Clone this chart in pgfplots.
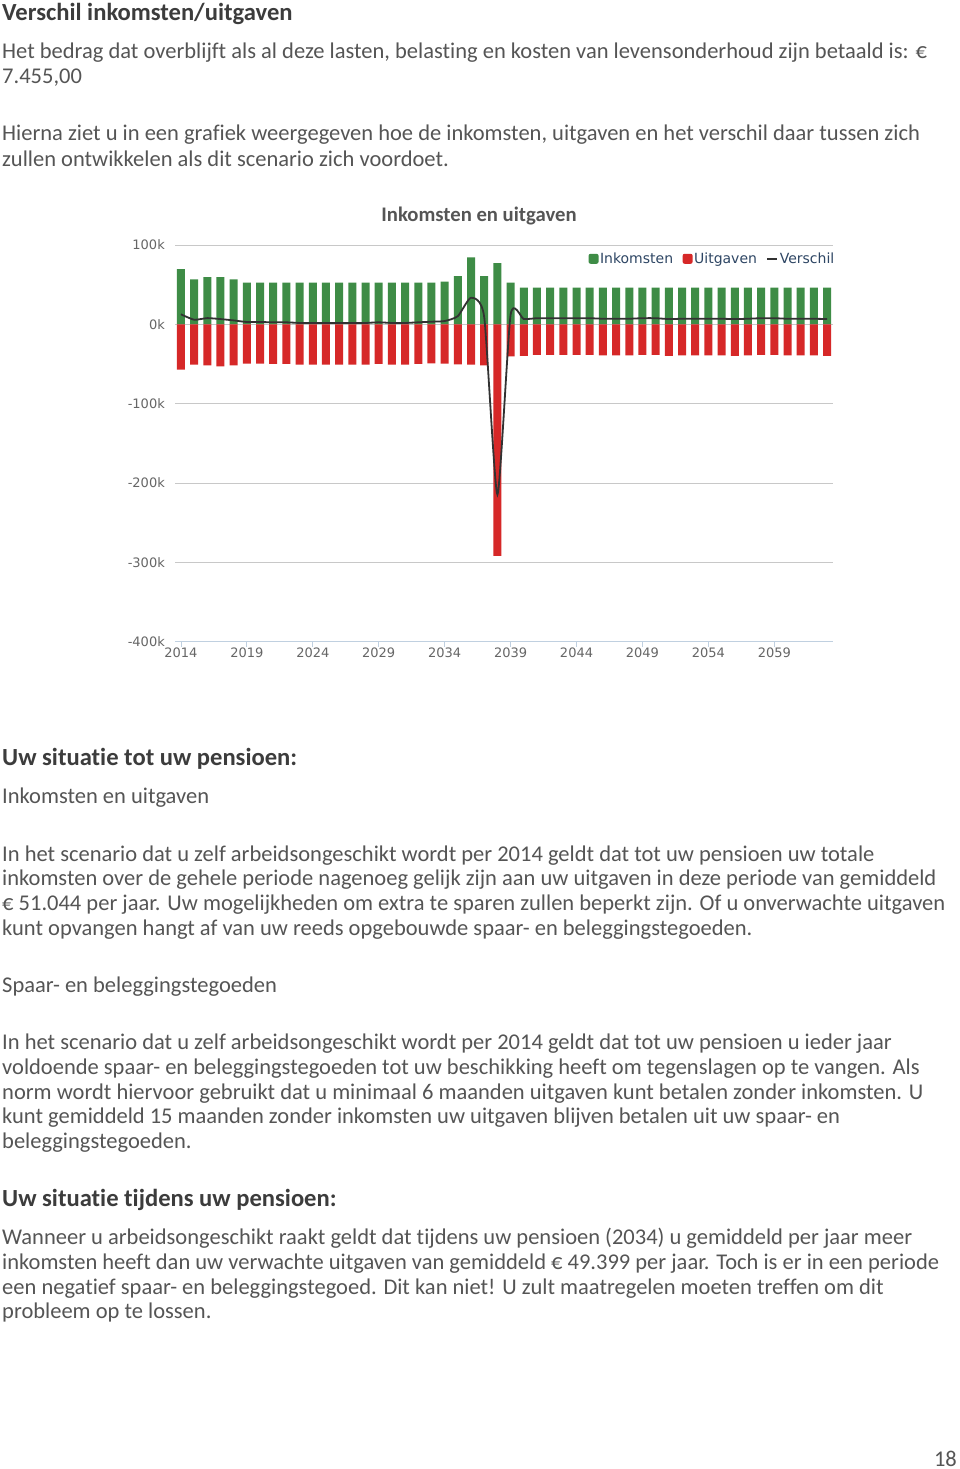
\documentclass[border=0pt]{standalone}
\usepackage{pgfplots}
\usepackage{pgfplotstable}
\pgfplotsset{compat=1.18}
\usepackage{fontspec}
\setmainfont[Ligatures=NoCommon]{Carlito}
\newfontfamily\dv{DejaVu Sans}
\definecolor{gbar}{RGB}{62,140,70}
\definecolor{rbar}{RGB}{214,40,40}
\definecolor{txt}{RGB}{85,85,85}
\definecolor{hd}{RGB}{60,60,60}
\definecolor{leg}{RGB}{46,70,100}
\definecolor{gridc}{RGB}{200,200,200}
\definecolor{axisc}{RGB}{192,208,224}
\definecolor{tickl}{RGB}{102,102,102}
\definecolor{linec}{RGB}{50,50,50}

\pgfplotstableread{
year ink uit ver
2014 69.6 -57.0 12.6
2015 56.6 -50.8 5.8
2016 59.5 -51.7 7.8
2017 59.5 -52.9 6.6
2018 56.6 -51.7 4.9
2019 52.5 -49.6 2.9
2020 52.5 -49.6 2.9
2021 52.5 -50.0 2.5
2022 52.5 -50.0 2.5
2023 52.5 -50.8 1.7
2024 52.5 -50.8 1.7
2025 52.5 -50.8 1.7
2026 52.5 -50.8 1.7
2027 52.5 -50.8 1.7
2028 52.5 -50.8 1.7
2029 52.5 -50.0 2.5
2030 52.5 -50.8 1.7
2031 52.5 -50.8 1.7
2032 52.5 -50.0 2.5
2033 52.5 -49.2 3.3
2034 53.7 -49.6 4.1
2035 60.7 -50.4 10.3
2036 84.3 -50.8 33.5
2037 60.7 -51.7 9.0
2038 77.3 -292.0 -214.7
2039 52.5 -40.5 12.0
2040 46.3 -39.7 6.6
2041 46.3 -38.6 7.7
2042 46.3 -38.6 7.7
2043 46.3 -38.6 7.7
2044 46.3 -38.6 7.7
2045 46.3 -38.6 7.7
2046 46.3 -39.3 7.0
2047 46.3 -39.3 7.0
2048 46.3 -39.3 7.0
2049 46.3 -38.6 7.7
2050 46.3 -38.6 7.7
2051 46.3 -39.7 6.6
2052 46.3 -39.3 7.0
2053 46.3 -39.3 7.0
2054 46.3 -39.3 7.0
2055 46.3 -39.3 7.0
2056 46.3 -39.7 6.6
2057 46.3 -39.3 7.0
2058 46.3 -38.6 7.7
2059 46.3 -38.6 7.7
2060 46.3 -39.3 7.0
2061 46.3 -39.3 7.0
2062 46.3 -39.3 7.0
2063 46.3 -39.7 6.6
}\data

\newcommand{\bodyfont}{\fontsize{22.5}{26}\selectfont}
\newcommand{\hdfont}{\fontsize{24.6}{29}\selectfont\bfseries}
\newcommand{\Line}[2]{\node[anchor=base west,inner sep=0pt,text=txt,font=\bodyfont] at (2pt,-#1pt) {#2};}
\newcommand{\Head}[2]{\node[anchor=base west,inner sep=0pt,text=hd,font=\hdfont] at (2pt,-#1pt) {#2};}

\begin{document}
\begin{tikzpicture}
\path[fill=white] (0,0) rectangle (960pt,-1469pt);

\Head{21}{Verschil inkomsten/uitgaven}
\Line{59}{Het bedrag dat overblijft als al deze lasten, belasting en kosten van levensonderhoud zijn betaald is: €}
\Line{84}{7.455,00}
\Line{141}{Hierna ziet u in een grafiek weergegeven hoe de inkomsten, uitgaven en het verschil daar tussen zich}
\Line{166}{zullen ontwikkelen als dit scenario zich voordoet.}

\node[anchor=base,inner sep=0pt,text=txt,font=\fontsize{20.7}{24}\selectfont\bfseries] at (479pt,-221pt) {Inkomsten en uitgaven};

\begin{axis}[
  at={(175pt,-641.5pt)}, anchor=south west,
  scale only axis, width=658pt, height=396.5pt,
  xmin=2013.55, xmax=2063.45, ymin=-400, ymax=100,
  axis x line*=bottom, axis y line*=left,
  x axis line style={-, draw=axisc, line width=0.8pt},
  y axis line style={draw=none},
  ymajorgrids, grid style={gridc, line width=0.8pt},
  tick align=outside, major tick length=5pt,
  xtick={2014,2019,2024,2029,2034,2039,2044,2049,2054,2059},
  xticklabels={2014,2019,2024,2029,2034,2039,2044,2049,2054,2059},
  ytick={-400,-300,-200,-100,0,100},
  yticklabels={-400k,-300k,-200k,-100k,0k,100k},
  x tick style={draw=axisc, line width=0.8pt},
  y tick style={draw=none},
  xticklabel style={font=\fontsize{13}{15}\selectfont\dv, text=tickl, inner sep=0pt, yshift=-1.5pt},
  yticklabel style={font=\fontsize{13}{15}\selectfont\dv, text=tickl, inner sep=0pt, xshift=-5pt},
  legend style={at={(1,1)}, anchor=north east, yshift=-6pt, xshift=3pt, draw=none, fill=none,
    font=\fontsize{14}{16}\selectfont\dv, text=leg, inner sep=0pt,
    nodes={inner sep=1.5pt},
    /tikz/every even column/.append style={column sep=8pt}},
  legend columns=-1,
]
\addplot[ybar, bar width=8pt, bar shift=0pt, fill=gbar, draw=none,
  legend image code/.code={\fill[gbar, rounded corners=2pt] (-1pt,-5pt) rectangle (9pt,5pt);}]
  table[x=year,y=ink]{\data};
\addlegendentry{Inkomsten}
\addplot[ybar, bar width=8pt, bar shift=0pt, fill=rbar, draw=none,
  legend image code/.code={\fill[rbar, rounded corners=2pt] (-1pt,-5pt) rectangle (9pt,5pt);}]
  table[x=year,y=uit]{\data};
\addlegendentry{Uitgaven}
\addplot[smooth, tension=0.35, line width=1.8pt, linec, no markers,
  legend image code/.code={\draw[linec, line width=1.8pt] (0pt,0pt) -- (10pt,0pt);}]
  table[x=year,y=ver]{\data};
\addlegendentry{Verschil}
\end{axis}

\Head{765}{Uw situatie tot uw pensioen:}
\Line{803}{Inkomsten en uitgaven}
\Line{861}{In het scenario dat u zelf arbeidsongeschikt wordt per 2014 geldt dat tot uw pensioen uw totale}
\Line{885}{inkomsten over de gehele periode nagenoeg gelijk zijn aan uw uitgaven in deze periode van gemiddeld}
\Line{910}{€ 51.044 per jaar. Uw mogelijkheden om extra te sparen zullen beperkt zijn. Of u onverwachte uitgaven}
\Line{935}{kunt opvangen hangt af van uw reeds opgebouwde spaar- en beleggingstegoeden.}
\Line{992}{Spaar- en beleggingstegoeden}
\Line{1049}{In het scenario dat u zelf arbeidsongeschikt wordt per 2014 geldt dat tot uw pensioen u ieder jaar}
\Line{1074}{voldoende spaar- en beleggingstegoeden tot uw beschikking heeft om tegenslagen op te vangen. Als}
\Line{1099}{norm wordt hiervoor gebruikt dat u minimaal 6 maanden uitgaven kunt betalen zonder inkomsten. U}
\Line{1123}{kunt gemiddeld 15 maanden zonder inkomsten uw uitgaven blijven betalen uit uw spaar- en}
\Line{1148}{beleggingstegoeden.}
\Head{1206}{Uw situatie tijdens uw pensioen:}
\Line{1244}{Wanneer u arbeidsongeschikt raakt geldt dat tijdens uw pensioen (2034) u gemiddeld per jaar meer}
\Line{1269}{inkomsten heeft dan uw verwachte uitgaven van gemiddeld € 49.399 per jaar. Toch is er in een periode}
\Line{1294}{een negatief spaar- en beleggingstegoed. Dit kan niet! U zult maatregelen moeten treffen om dit}
\Line{1318}{probleem op te lossen.}
\node[anchor=base east,inner sep=0pt,text=txt,font=\bodyfont] at (957pt,-1466pt) {18};
\end{tikzpicture}
\end{document}
